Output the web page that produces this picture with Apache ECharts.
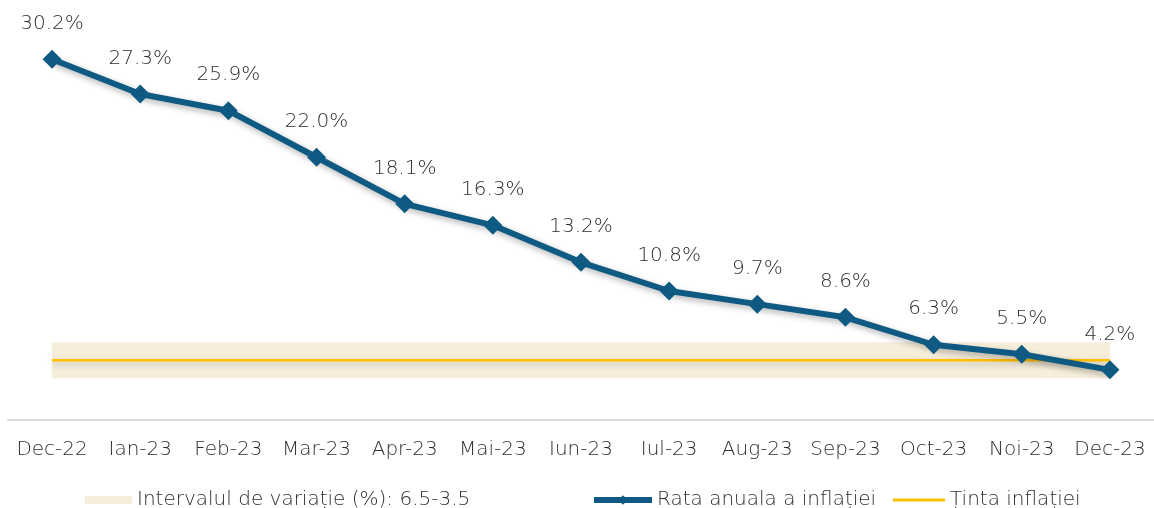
<!DOCTYPE html>
<html>
<head>
<meta charset="utf-8">
<script src="https://cdn.jsdelivr.net/npm/echarts@6/dist/echarts.min.js"></script>
<style>
  html, body { margin: 0; padding: 0; background: #fff; }
  #Chart { width: 1154px; height: 508px; }
</style>
</head>
<body>
<div id="Chart"></div>
<script>
// date
var months = ['Dec-22', 'Ian-23', 'Feb-23', 'Mar-23', 'Apr-23', 'Mai-23', 'Iun-23',
    'Iul-23', 'Aug-23', 'Sep-23', 'Oct-23', 'Noi-23', 'Dec-23'];
var rata = [30.2, 27.3, 25.9, 22.0, 18.1, 16.3, 13.2, 10.8, 9.7, 8.6, 6.3, 5.5, 4.2];
var tinta = [5, 5, 5, 5, 5, 5, 5, 5, 5, 5, 5, 5, 5];
var bandLow = [3.5, 3.5, 3.5, 3.5, 3.5, 3.5, 3.5, 3.5, 3.5, 3.5, 3.5, 3.5, 3.5];
var bandWidth = [3, 3, 3, 3, 3, 3, 3, 3, 3, 3, 3, 3, 3];

var fontFam = '"DejaVu Sans", sans-serif';
var textColor = '#2e2e2e';
var lineColor = '#0f5a82';
var bandColor = '#f6eedb';
var targetColor = '#ffc000';

var myChart = echarts.init(document.getElementById('Chart'));
var legendText = { color: textColor, fontSize: 20, fontFamily: fontFam, fontWeight: 200 };
var option = {
    animation: false,
    grid: { left: 8, right: -8, top: 2, bottom: 88 },
    legend: [{
        left: 80, top: 485, itemWidth: 47, itemHeight: 8, itemGap: 7,
        textStyle: legendText,
        data: [{ name: 'Intervalul de variație (%): 6.5-3.5', icon: 'rect' }]
    }, {
        left: 586, top: 485, itemWidth: 58, itemHeight: 12, itemGap: 3,
        textStyle: legendText,
        lineStyle: { width: 6 },
        data: ['Rata anuala a inflației']
    }, {
        left: 888, top: 485, itemWidth: 52, itemHeight: 3, itemGap: 5,
        textStyle: legendText,
        data: [{ name: 'Ținta inflației', icon: 'rect' }]
    }],
    xAxis: {
        type: 'category',
        data: months,
        boundaryGap: true,
        axisLine: { lineStyle: { color: '#d9d9d9', width: 2 } },
        axisTick: { show: false },
        axisLabel: { color: textColor, fontSize: 20, fontFamily: fontFam, fontWeight: 200, margin: 20, interval: 0 }
    },
    yAxis: {
        type: 'value', min: 0, max: 35,
        show: false,
        splitLine: { show: false }
    },
    series: [{
        name: 'base',
        type: 'line',
        stack: 'band',
        data: bandLow,
        symbol: 'none',
        lineStyle: { width: 0 },
        silent: true
    }, {
        name: 'Intervalul de variație (%): 6.5-3.5',
        type: 'line',
        stack: 'band',
        data: bandWidth,
        symbol: 'none',
        itemStyle: { color: bandColor },
        lineStyle: { width: 0, color: bandColor },
        areaStyle: { color: bandColor, opacity: 1 }
    }, {
        name: 'Ținta inflației',
        type: 'line',
        data: tinta,
        symbol: 'none',
        itemStyle: { color: targetColor },
        lineStyle: {
            color: targetColor, width: 2.5,
            shadowColor: 'rgba(0,0,0,0.25)', shadowBlur: 6, shadowOffsetY: 3
        }
    }, {
        name: 'Rata anuala a inflației',
        type: 'line',
        data: rata,
        symbol: 'diamond',
        symbolSize: 19,
        itemStyle: { color: lineColor },
        lineStyle: {
            color: lineColor, width: 6,
            shadowColor: 'rgba(0,0,0,0.3)', shadowBlur: 6, shadowOffsetX: 2, shadowOffsetY: 3
        },
        label: {
            show: true,
            position: 'top',
            distance: 16,
            color: textColor,
            fontSize: 20,
            fontFamily: fontFam,
            fontWeight: 200,
            formatter: function (p) { return p.value.toFixed(1) + '%'; }
        }
    }]
};
myChart.setOption(option);
window.addEventListener('resize', function () {
    myChart.resize();
});
</script>
</body>
</html>
